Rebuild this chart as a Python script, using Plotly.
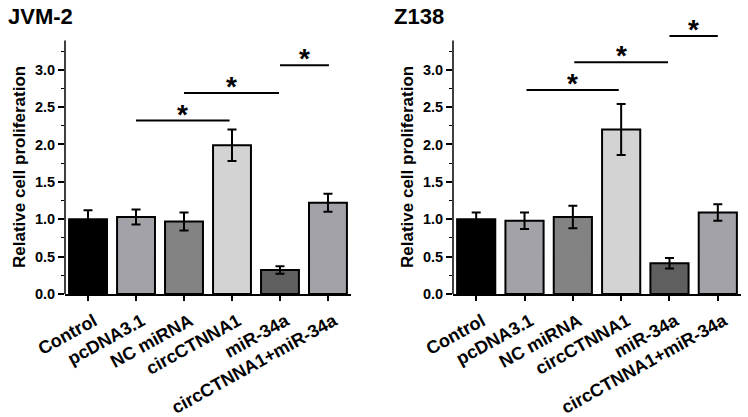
import plotly.graph_objects as go

categories = ["Control", "pcDNA3.1", "NC miRNA", "circCTNNA1", "miR-34a", "circCTNNA1+miR-34a"]
bar_colors = ["#000000", "#a2a2a8", "#838383", "#d3d3d3", "#5f5f5f", "#a2a2a8"]

jvm_mean = [1.00, 1.03, 0.97, 1.99, 0.32, 1.22]
jvm_err = [0.12, 0.10, 0.12, 0.21, 0.05, 0.12]
z_mean = [1.00, 0.98, 1.03, 2.20, 0.41, 1.09]
z_err = [0.09, 0.11, 0.15, 0.34, 0.07, 0.11]

jvm_sig_start = [1, 2, 4]
jvm_sig_end = [2.95, 3.98, 5.02]
jvm_sig_y = [2.32, 2.69, 3.06]
z_sig_start = [1.04, 2.03, 4.0]
z_sig_end = [2.95, 3.97, 5.0]
z_sig_y = [2.73, 3.10, 3.45]

y_ticks = [0.0, 0.5, 1.0, 1.5, 2.0, 2.5, 3.0]
y_minor = [0.25, 0.75, 1.25, 1.75, 2.25, 2.75, 3.25]
y_axis_top = 3.39
y_range = [0, 3.55]

panel_titles = ["JVM-2", "Z138"]
y_title = "Relative cell proliferation"

FONT = "Liberation Sans, Arial, sans-serif"

fig = go.Figure()
panels = [
    ("x", "y", jvm_mean, jvm_err, jvm_sig_start, jvm_sig_end, jvm_sig_y),
    ("x2", "y2", z_mean, z_err, z_sig_start, z_sig_end, z_sig_y),
]
for xa, ya, means, errs, s0, s1, sy in panels:
    fig.add_trace(go.Bar(
        x=categories, y=means, xaxis=xa, yaxis=ya, width=0.79,
        marker=dict(color=bar_colors, line=dict(color="black", width=2)),
        error_y=dict(type="data", array=errs, color="black", thickness=2, width=4.5),
        showlegend=False,
    ))
    # y axis line drawn only up to the axis top
    fig.add_shape(type="line", xref=xa + " domain", yref=ya, x0=0, x1=0,
                  y0=0, y1=y_axis_top, line=dict(color="black", width=1.5))
    for a, b, h in zip(s0, s1, sy):
        fig.add_shape(type="line", xref=xa, yref=ya, x0=a, x1=b, y0=h, y1=h,
                      line=dict(color="black", width=2))
        fig.add_annotation(xref=xa, yref=ya, x=(a + b) / 2, y=h, text="*",
                           showarrow=False, yanchor="bottom", yshift=-11,
                           font=dict(family=FONT, size=28, color="black", weight="bold"))

xaxis_common = dict(
    type="category", range=[-0.48, 5.48], showline=True, linecolor="black", linewidth=1.5,
    ticks="outside", ticklen=5, tickwidth=1.5, tickcolor="black", tickangle=-29,
    ticklabelshift=6, ticklabelstandoff=3,
    tickfont=dict(family=FONT, size=18, color="black", weight="bold"),
    showgrid=False, zeroline=False, automargin=False,
)
yaxis_common = dict(
    range=y_range, showline=False, tickmode="array", tickvals=y_ticks,
    ticktext=[f"{v:.1f}" for v in y_ticks],
    ticks="outside", ticklen=6, tickwidth=1.5, tickcolor="black",
    minor=dict(tickmode="array", tickvals=y_minor, ticks="outside", ticklen=3.5,
               tickwidth=1, tickcolor="black", showgrid=False),
    tickfont=dict(family=FONT, size=14.5, color="black", weight="bold"),
    showgrid=False, zeroline=False, automargin=False,
)

fig.update_layout(
    width=748, height=417, margin=dict(l=0, r=0, t=0, b=0, autoexpand=False),
    plot_bgcolor="white", paper_bgcolor="white", bargap=0.2,
    xaxis=dict(xaxis_common, domain=[65 / 748, 351 / 748], anchor="y"),
    yaxis=dict(yaxis_common, domain=[123 / 417, 388.4 / 417], anchor="x"),
    xaxis2=dict(xaxis_common, domain=[453 / 748, 741 / 748], anchor="y2"),
    yaxis2=dict(yaxis_common, domain=[123 / 417, 388.4 / 417], anchor="x2"),
)

for xpos, label in zip([6 / 748, 392 / 748], panel_titles):
    fig.add_annotation(xref="paper", yref="paper", x=xpos, y=1 - 17 / 417,
                       xanchor="left", yanchor="middle", text=label, showarrow=False,
                       font=dict(family=FONT, size=22, color="black", weight="bold"))
for xpos in [20 / 748, 408 / 748]:
    fig.add_annotation(xref="paper", yref="paper", x=xpos, y=1 - 167 / 417,
                       xanchor="center", yanchor="middle", text=y_title, textangle=-90,
                       showarrow=False,
                       font=dict(family=FONT, size=17, color="black", weight="bold"))

fig.write_html(
    "out.html",
    config={"displayModeBar": False},
    post_script="document.body.style.margin='0';document.body.style.overflow='hidden';",
)
